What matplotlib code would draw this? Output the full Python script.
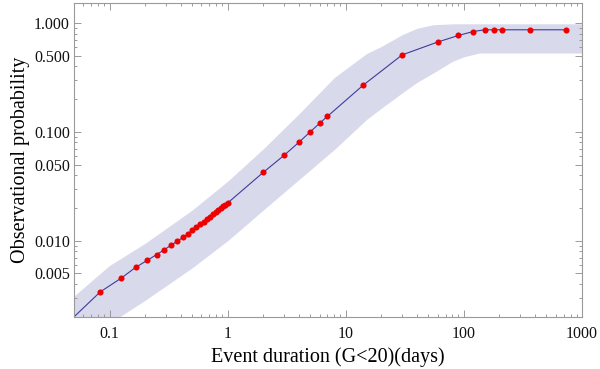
import numpy as np
import matplotlib
matplotlib.use("Agg")
import matplotlib.pyplot as plt
from matplotlib.ticker import FixedLocator, LogLocator, NullFormatter, FixedFormatter

# ---- data ----
hours = [1, 2, 3, 4, 5, 6, 7, 8, 9, 10, 11, 12, 13, 14, 15, 16, 17, 18, 19, 20, 21, 22, 23, 24]
prob_hours = [0.00165, 0.00338, 0.00451, 0.00569, 0.00659, 0.00744, 0.00827, 0.00911, 0.0099, 0.0107,
              0.01154, 0.01242, 0.01327, 0.01414, 0.01497, 0.01581, 0.01663, 0.01746, 0.01827,
              0.01906, 0.01986, 0.02065, 0.02143, 0.0222]
days = [2, 3, 4, 5, 6, 7, 14, 30, 60, 90, 120, 150, 180, 210, 365, 730]
prob_days = [0.0424, 0.0608, 0.080, 0.100, 0.120, 0.139, 0.268, 0.51, 0.67, 0.77, 0.837,
             0.868, 0.868, 0.868, 0.868, 0.868]

band_x = [0.04, 0.07, 0.1, 0.2, 0.5, 1, 2, 4, 8, 15, 20, 30, 40, 55, 80, 100, 135, 1000]
band_upper = [0.00251, 0.00425, 0.00592, 0.00946, 0.0191, 0.0352, 0.0698, 0.146, 0.316, 0.525,
              0.61, 0.782, 0.896, 0.966, 0.984, 0.986, 0.986, 0.986]
band_lower = [0.000708, 0.00122, 0.00174, 0.00283, 0.00562, 0.0100, 0.0191, 0.0363, 0.0689, 0.130,
              0.165, 0.228, 0.285, 0.348, 0.445, 0.49, 0.531, 0.531]

xticks = [0.1, 1, 10, 100, 1000]
xticklabels = ["0.1", "1", "10", "100", "1000"]
yticks = [0.005, 0.010, 0.050, 0.100, 0.500, 1.000]
yticklabels = ["0.005", "0.010", "0.050", "0.100", "0.500", "1.000"]

x = np.array(hours) / 24.0
x = np.concatenate([x, days])
y = np.concatenate([prob_hours, prob_days])

plt.rcParams['font.family'] = ['Liberation Serif', 'DejaVu Serif']

fig = plt.figure(figsize=(6.0, 3.69), dpi=100)
ax = fig.add_axes([0.1233, 0.1417, 0.97 - 0.1233, 0.991 - 0.1417])

ax.set_xscale('log')
ax.set_yscale('log')

ax.fill_between(band_x, band_lower, band_upper, color='#d9d9ec', lw=0, zorder=1)
ax.plot(x, y, color='#3c3c9c', lw=0.8, zorder=2)
ax.plot(x, y, 'o', color='#ee0000', ms=4.4, mec='none', zorder=3)

ax.set_xlim(0.05, 1000)
ax.set_ylim(0.002, 1.52)

frame_col = '#9a9a9a'
for s in ax.spines.values():
    s.set_color(frame_col)
    s.set_linewidth(0.8)

ax.xaxis.set_major_locator(FixedLocator(xticks))
ax.xaxis.set_major_formatter(FixedFormatter(xticklabels))
ax.xaxis.set_minor_locator(LogLocator(base=10, subs=np.arange(2, 10)))
ax.xaxis.set_minor_formatter(NullFormatter())
ax.yaxis.set_major_locator(FixedLocator(yticks))
ax.yaxis.set_major_formatter(FixedFormatter(yticklabels))
ax.yaxis.set_minor_locator(LogLocator(base=10, subs=np.arange(1, 10)))
ax.yaxis.set_minor_formatter(NullFormatter())

ax.tick_params(which='both', direction='in', top=True, right=True, color=frame_col,
               labelsize=11.5, labelcolor='#111111', width=0.7)
ax.tick_params(which='major', length=5)
ax.tick_params(which='minor', length=2.5)
ax.tick_params(axis='x', which='major', pad=6.5)
ax.tick_params(axis='y', which='major', pad=3)

ax.set_xlabel('Event duration (G<20)(days)', fontsize=14.5, labelpad=4)
ax.set_ylabel('Observational probability', fontsize=14.5, labelpad=3)

fig.savefig('out.png', dpi=100)
